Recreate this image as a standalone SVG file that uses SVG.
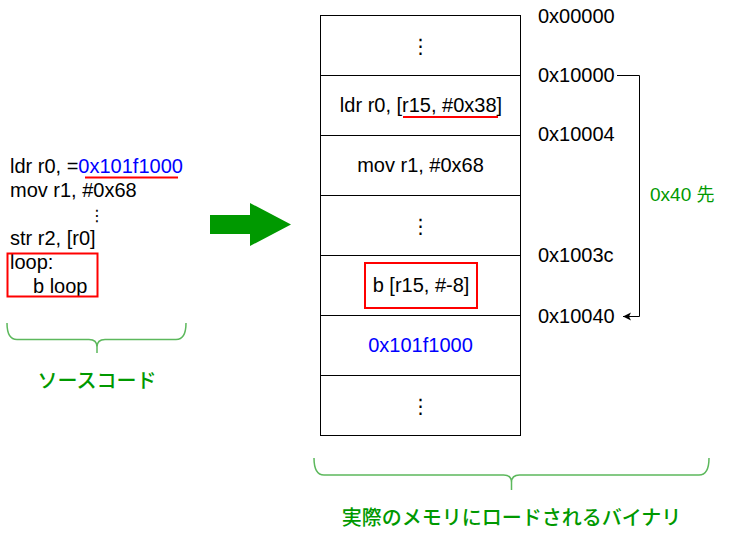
<svg xmlns="http://www.w3.org/2000/svg" width="729" height="545" viewBox="0 0 729 545">
<defs>
<style>
.t{font-family:"Liberation Sans",Arial,sans-serif;font-size:20px;fill:#000}
.c{text-anchor:middle}
.b{fill:#0000FF}
.g{fill:#009900}
.jp{font-family:"Noto Sans CJK JP",sans-serif;font-size:20px;font-weight:500;fill:#009900;text-anchor:middle}
.cell{fill:#fff;stroke:#000;stroke-width:1}
.red{fill:none;stroke:#FF0000;stroke-width:2}
.brace{fill:none;stroke:#5cb85c;stroke-width:1.5}
.dots{font-family:"DejaVu Sans",sans-serif;font-size:20px;fill:#000;text-anchor:middle}
</style>
<marker id="ah" markerWidth="10" markerHeight="10" refX="8" refY="4" orient="auto" markerUnits="userSpaceOnUse">
<path d="M0,0 L8,4 L0,8 L2,4 Z" fill="#000"/>
</marker>
</defs>
<rect width="729" height="545" fill="#fff"/>

<g id="source">
<text class="t" x="10" y="173"><tspan>ldr r0, =</tspan><tspan class="b">0x101f1000</tspan></text>
<line class="red" x1="85" y1="177.5" x2="178" y2="177.5"/>
<text class="t" x="10" y="197">mov r1, #0x68</text>
<text class="dots" x="97" y="221" style="font-size:16px">⋮</text>
<text class="t" x="10" y="245">str r2, [r0]</text>
<text class="t" x="10" y="269">loop:</text>
<text class="t" x="33" y="293">b loop</text>
<rect class="red" x="7.5" y="253.5" width="90" height="43"/>
</g>

<g id="source-brace">
<path class="brace" d="M7,323 Q7,339.5 17,339.5 H89 Q97,339.5 97,347 Q97,339.5 105,339.5 H176 Q186,339.5 186,323 M97,347 V353"/>
<text class="jp" x="97" y="388">ソースコード</text>
</g>

<g id="arrow">
<polygon points="210,215 250,215 250,203 291,224.5 250,246 250,234 210,234" fill="#009900"/>
</g>

<g id="memory">
<g id="row0"><rect class="cell" x="320.5" y="15.5" width="200" height="60"/><text class="dots" x="420.5" y="53">⋮</text></g>
<g id="row1"><rect class="cell" x="320.5" y="75.5" width="200" height="60"/><text class="t c" x="421" y="112">ldr r0, [r15, #0x38]</text><line class="red" x1="403" y1="117" x2="498" y2="117"/></g>
<g id="row2"><rect class="cell" x="320.5" y="135.5" width="200" height="60"/><text class="t c" x="420.5" y="172">mov r1, #0x68</text></g>
<g id="row3"><rect class="cell" x="320.5" y="195.5" width="200" height="60"/><text class="dots" x="420.5" y="233">⋮</text></g>
<g id="row4"><rect class="cell" x="320.5" y="255.5" width="200" height="60"/><rect class="red" x="365" y="263" width="112" height="45"/><text class="t c" x="421" y="292">b [r15, #-8]</text></g>
<g id="row5"><rect class="cell" x="320.5" y="315.5" width="200" height="60"/><text class="t c b" x="420.5" y="352">0x101f1000</text></g>
<g id="row6"><rect class="cell" x="320.5" y="375.5" width="200" height="60"/><text class="dots" x="420.5" y="413">⋮</text></g>
</g>

<g id="addresses">
<text class="t" x="538" y="23">0x00000</text>
<text class="t" x="538" y="82">0x10000</text>
<text class="t" x="538" y="141">0x10004</text>
<text class="t" x="538" y="262">0x1003c</text>
<text class="t" x="538" y="323">0x10040</text>
<text class="t g" x="650" y="201" style="font-size:19px"><tspan>0x40 </tspan><tspan style="font-family:'Noto Sans CJK JP',sans-serif;font-size:18px">先</tspan></text>
</g>

<g id="connectors">
<path d="M617,75.5 H639.5 V316.5 H623" fill="none" stroke="#000" stroke-width="1" marker-end="url(#ah)"/>
</g>

<g id="binary-brace">
<path class="brace" d="M314,458 Q314,475 324,475 H503.5 Q511.5,475 511.5,482.5 Q511.5,475 519.5,475 H699 Q709,475 709,458 M511.5,482.5 V490"/>
<text class="jp" x="511.5" y="525">実際のメモリにロードされるバイナリ</text>
</g>
</svg>
